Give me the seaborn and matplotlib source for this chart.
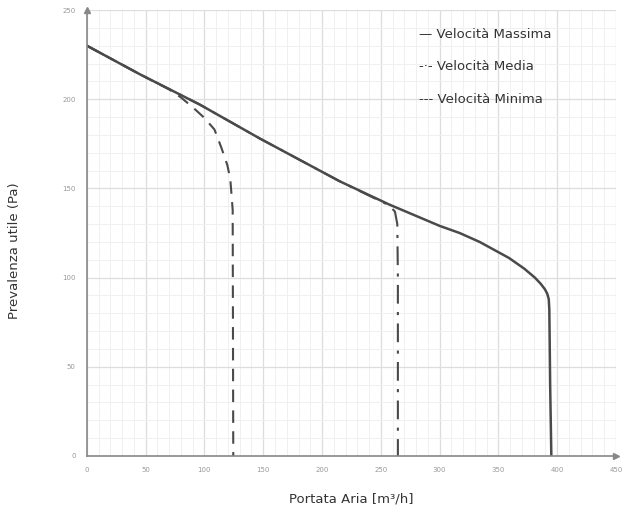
import numpy as np
import pandas as pd
import seaborn as sns
import matplotlib.pyplot as plt
from matplotlib.ticker import MultipleLocator

sns.set_style("white")
plt.rcParams['font.family'] = ['DejaVu Sans']

# curve points (portata m3/h, prevalenza Pa)
max_x = [0, 45, 96, 147, 215, 257, 300, 317, 334, 359, 372, 381, 386, 389.5, 391.5, 392.8, 393.3, 394, 395]
max_y = [230, 214, 197, 178, 154, 141, 129, 125, 120, 111, 105, 100, 96.5, 93.5, 91, 88, 82, 40, 0]

med_x = [0, 45, 96, 147, 215, 257, 262, 264, 264.5, 264.5]
med_y = [230, 214, 197, 178, 154, 140.5, 137, 130, 100, 0]

min_x = [0, 45, 70, 80, 90, 100, 108.5, 114.5, 119.5, 122, 124, 124.5]
min_y = [230, 214, 205.5, 201, 195.5, 189.5, 183, 172.6, 163, 155, 138, 0]

xticks = [0, 50, 100, 150, 200, 250, 300, 350, 400, 450]
yticks = [0, 50, 100, 150, 200, 250]

legend_labels = ["— Velocità Massima", "-·- Velocità Media", "--- Velocità Minima"]

line_col = "#4a4a4a"

fig = plt.figure(figsize=(6.25, 5.16), dpi=100)
ax = fig.add_axes([0.139, 0.1163, 0.8466, 0.8643])

sns.lineplot(x=max_x, y=max_y, ax=ax, color=line_col, lw=1.8,
             estimator=None, sort=False)
sns.lineplot(x=med_x, y=med_y, ax=ax, color=line_col, lw=1.5,
             estimator=None, sort=False)
ax.lines[-1].set_dashes([9, 4, 1.5, 4])
sns.lineplot(x=min_x, y=min_y, ax=ax, color=line_col, lw=1.5,
             estimator=None, sort=False)
ax.lines[-1].set_dashes([6, 4])

ax.set_xlim(0, 450)
ax.set_ylim(0, 250)
ax.set_xticks(xticks)
ax.set_yticks(yticks)
ax.xaxis.set_minor_locator(MultipleLocator(10))
ax.yaxis.set_minor_locator(MultipleLocator(10))
ax.grid(which="major", color="#dddddd", lw=0.9)
ax.grid(which="minor", color="#f0f0f0", lw=0.7)
ax.set_axisbelow(True)
ax.tick_params(which="both", length=0, labelsize=5, labelcolor="#999999", pad=8)

for s in ["top", "right"]:
    ax.spines[s].set_visible(False)
for s in ["left", "bottom"]:
    ax.spines[s].set_color("#888888")
    ax.spines[s].set_linewidth(1.2)
ax.plot(1, 0, ">", color="#888888", ms=4, transform=ax.transAxes, clip_on=False)
ax.plot(0, 1, "^", color="#888888", ms=4, transform=ax.transAxes, clip_on=False)

for i, lab in enumerate(legend_labels):
    ax.text(0.628, 0.946 - i * 0.073, lab, transform=ax.transAxes,
            fontsize=9.5, color="#333333", va="center")

ax.set_xlabel("Portata Aria [m³/h]", fontsize=9.5, color="#333333", labelpad=14)
ax.set_ylabel("Prevalenza utile (Pa)", fontsize=9.5, color="#333333")
ax.yaxis.set_label_coords(-0.125, 0.46)

fig.savefig("out.png", dpi=100)
